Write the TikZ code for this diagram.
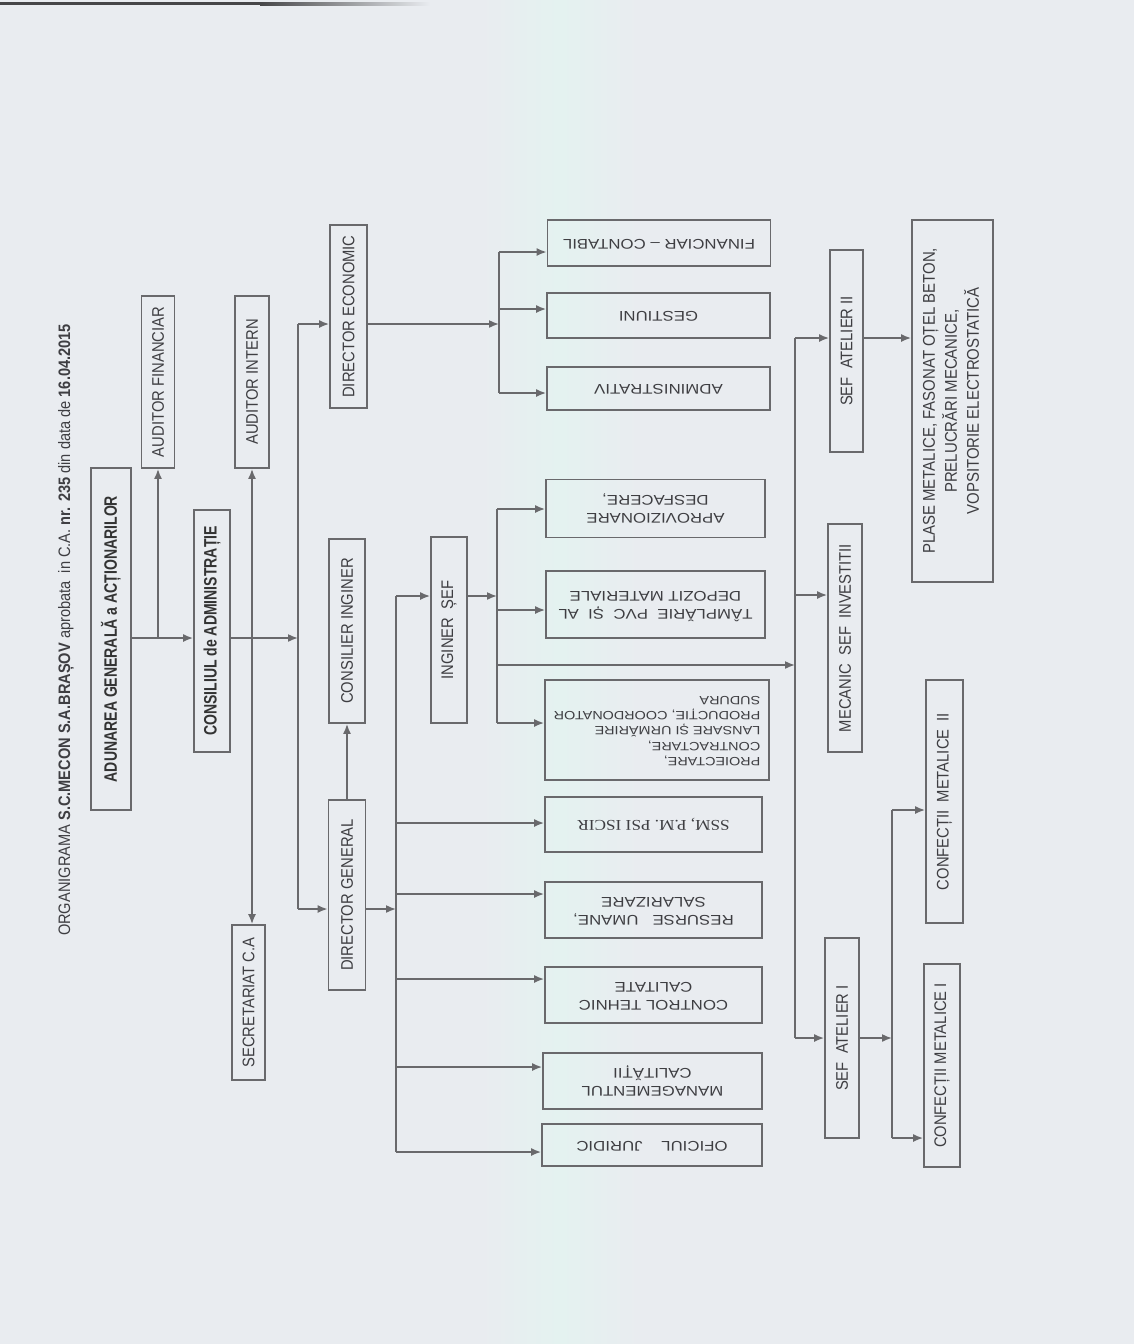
\documentclass[tikz,border=0pt]{standalone}
\usepackage{fontspec}
\usepackage{graphicx}
\setmainfont{Liberation Sans}
\newfontfamily\cond{Liberation Sans}[FakeStretch=0.88]
\newfontfamily\condb{Liberation Sans}[FakeStretch=0.78]
\newfontfamily\wide{Liberation Sans}[FakeStretch=1.2]
\newfontfamily\serifw{Liberation Serif}[FakeStretch=1.15]
\usetikzlibrary{arrows.meta}

\definecolor{paper}{RGB}{233,236,240}
\definecolor{band}{RGB}{228,242,240}
\definecolor{linec}{RGB}{105,105,108}
\definecolor{txtc}{RGB}{62,62,66}
\definecolor{scanbar}{RGB}{70,70,72}

\newcommand{\vt}[1]{\rotatebox{90}{#1}}
\newcommand{\vtt}[1]{\rotatebox{90}{\begin{tabular}{@{}c@{}}#1\end{tabular}}}
\newcommand{\ut}[1]{\rotatebox{180}{\begin{tabular}{@{}c@{}}#1\end{tabular}}}
\newcommand{\utl}[1]{\rotatebox{180}{\begin{tabular}{@{}l@{}}#1\end{tabular}}}

\tikzset{
  box/.style={draw=linec, line width=0.9pt, inner sep=0pt, text=txtc, align=center},
  wh/.style 2 args={minimum width=#1*0.5pt, minimum height=#2*0.5pt},
  vlab/.style={font=\cond\fontsize{8.4}{10}\selectfont},
  blab/.style={font=\condb\bfseries\fontsize{9}{11}\selectfont, text=black!80},
  ulab/.style={font=\wide\fontsize{7}{9}\selectfont},
  link/.style={draw=linec, line width=0.8pt, -{Latex[length=5pt,width=4pt]}},
  bus/.style={draw=linec, line width=0.8pt},
}

\begin{document}
\begin{tikzpicture}[x=0.5pt, y=-0.5pt]
    % page
    \fill[paper] (0,0) rectangle (1134,1344);
    \shade[left color=paper, right color=paper, middle color=band] (480,0) rectangle (640,1344);
    \fill[scanbar] (0,2) rectangle (260,5);
    \shade[left color=scanbar, right color=paper] (260,2) rectangle (430,5);
    \useasboundingbox (0,0) rectangle (1134,1344);

    % title
    \node[font=\cond\fontsize{8.3}{10}\selectfont, text=txtc, inner sep=0pt] (title) at (66,630)
        {\vt{ORGANIGRAMA \textbf{S.C.MECON S.A.BRAȘOV} aprobata\ \ in C.A. \textbf{nr. 235} din data de \textbf{16.04.2015}}};

    % conducere
    \node[box, blab, wh={40}{342}] (aga) at (111,639) {\vt{ADUNAREA GENERALĂ a ACȚIONARILOR}};
    \node[box, vlab, wh={33}{172}] (audfin) at (158,382) {\vt{AUDITOR FINANCIAR}};
    \node[box, blab, wh={36}{242}] (cons) at (212,631) {\vt{CONSILIUL de ADMINISTRAȚIE}};
    \node[box, vlab, wh={34}{172}] (audint) at (252,382) {\vt{AUDITOR INTERN}};
    \node[box, vlab, wh={33}{155}] (secret) at (248.5,1002.5) {\vt{SECRETARIAT C.A}};
    \node[box, vlab, wh={37}{183}] (direc) at (348.5,316.5) {\vt{DIRECTOR ECONOMIC}};
    \node[box, vlab, wh={36}{184}] (consing) at (347,631) {\vt{CONSILIER INGINER}};
    \node[box, vlab, wh={37}{190}] (dirgen) at (347,895) {\vt{DIRECTOR GENERAL}};
    \node[box, vlab, wh={36}{186}] (ingsef) at (449,630) {\vt{INGINER\ \ ȘEF}};

    % compartimente
    \node[box, ulab, wh={223}{46}] (fin) at (659,243) {\ut{FINANCIAR – CONTABIL}};
    \node[box, ulab, wh={223}{45}] (gest) at (658.5,315.5) {\ut{GESTIUNI}};
    \node[box, ulab, wh={223}{43}] (adm) at (658.5,388.5) {\ut{ADMINISTRATIV}};
    \node[box, ulab, wh={219}{58}] (aprov) at (655.5,508.5) {\ut{APROVIZIONARE\\DESFACERE,}};
    \node[box, ulab, wh={219}{67}] (tampl) at (655.5,604.5) {\ut{TÂMPLĂRIE\ \ PVC\ \ ȘI\ \ AL\\DEPOZIT MATERIALE}};
    \node[box, font=\wide\fontsize{6}{7.6}\selectfont, wh={224}{100}] (proiect) at (657,730)
        {\utl{PROIECTARE,\\CONTRACTARE,\\LANSARE ȘI URMĂRIRE\\PRODUCȚIE, COORDONATOR\\SUDURA}};
    \node[box, font=\serifw\fontsize{7.5}{9}\selectfont, wh={217}{55}] (ssm) at (653.5,824.5) {\ut{SSM, P.M. PSI ISCIR}};
    \node[box, ulab, wh={217}{56}] (resurse) at (653.5,910) {\ut{RESURSE\ \ \ UMANE,\\SALARIZARE}};
    \node[box, ulab, wh={217}{56}] (control) at (653.5,995) {\ut{CONTROL TEHNIC\\CALITATE}};
    \node[box, ulab, wh={219}{56}] (manag) at (652.5,1081) {\ut{MANAGEMENTUL\\CALITĂȚII}};
    \node[box, ulab, wh={220}{42}] (oficiul) at (652,1145) {\ut{OFICIUL\quad\ JURIDIC}};

    % ateliere
    \node[box, vlab, wh={33}{202}] (sefat2) at (846.5,351) {\vt{SEF\ \ ATELIER II}};
    \node[box, font=\cond\fontsize{8.5}{11}\selectfont, wh={81}{362}] (plase) at (952.5,401)
        {\vtt{PLASE METALICE, FASONAT OȚEL BETON,\\PRELUCRĂRI MECANICE,\\VOPSITORIE ELECTROSTATICĂ}};
    \node[box, vlab, wh={34}{228}] (mecanic) at (845,638) {\vt{MECANIC\ \ SEF\ \ INVESTITII}};
    \node[box, vlab, wh={34}{200}] (sefat1) at (842,1038) {\vt{SEF\ \ ATELIER I}};
    \node[box, vlab, wh={37}{243}] (conf2) at (944.5,801.5) {\vt{CONFECȚII\ \ METALICE\ \ II}};
    \node[box, vlab, wh={36}{203}] (conf1) at (942,1065.5) {\vt{CONFECȚII METALICE I}};

    % puncte de ramificare
    \coordinate (jA) at (158,638);
    \coordinate (jS) at (252,638);
    \coordinate (bL) at (298,638);
    \coordinate (tE) at (298,324);
    \coordinate (tG) at (298,909);
    \coordinate (e0) at (499,324);
    \coordinate (e1) at (499,252);
    \coordinate (e2) at (499,309);
    \coordinate (e3) at (499,393);
    \coordinate (g0) at (396,909);
    \coordinate (g1) at (396,596);
    \coordinate (g2) at (396,823);
    \coordinate (g3) at (396,894);
    \coordinate (g4) at (396,979);
    \coordinate (g5) at (396,1067);
    \coordinate (g6) at (396,1152);
    \coordinate (i0) at (497,596);
    \coordinate (i1) at (497,509);
    \coordinate (i2) at (497,610);
    \coordinate (i3) at (497,665);
    \coordinate (i4) at (497,723);
    \coordinate (m1) at (795,338);
    \coordinate (m2) at (795,665);
    \coordinate (m3) at (795,595);
    \coordinate (m4) at (795,1038);
    \coordinate (s0) at (892,1038);
    \coordinate (s1) at (892,810);
    \coordinate (s2) at (892,1138);

    % AGA si CA
    \draw[link] (aga.east |- jA) -- (cons.west |- jA);
    \draw[link] (jA) -- (audfin.south);
    \draw[link] (cons.east |- jA) -- (bL);
    \draw[link] (jS) -- (audint.south);
    \draw[link] (jS) -- (jS |- secret.north);
    \draw[bus] (tE) -- (tG);
    \draw[link] (tE) -- (direc.west |- tE);
    \draw[link] (tG) -- (dirgen.west |- tG);
    \draw[link] (dirgen.north) -- (consing.south);

    % director economic
    \draw[link] (direc.east |- e0) -- (e0);
    \draw[bus] (e1) -- (e3);
    \draw[link] (e1) -- (fin.west |- e1);
    \draw[link] (e2) -- (gest.west |- e2);
    \draw[link] (e3) -- (adm.west |- e3);

    % director general
    \draw[link] (dirgen.east |- g0) -- (g0);
    \draw[bus] (g1) -- (g6);
    \draw[link] (g1) -- (ingsef.west |- g1);
    \draw[link] (g2) -- (ssm.west |- g2);
    \draw[link] (g3) -- (resurse.west |- g3);
    \draw[link] (g4) -- (control.west |- g4);
    \draw[link] (g5) -- (manag.west |- g5);
    \draw[link] (g6) -- (oficiul.west |- g6);

    % inginer sef
    \draw[link] (ingsef.east |- i0) -- (i0);
    \draw[bus] (i1) -- (i4);
    \draw[link] (i1) -- (aprov.west |- i1);
    \draw[link] (i2) -- (tampl.west |- i2);
    \draw[link] (i4) -- (proiect.west |- i4);
    \draw[link] (i3) -- (m2);

    % ateliere
    \draw[bus] (m1) -- (m4);
    \draw[link] (m1) -- (sefat2.west |- m1);
    \draw[link] (m3) -- (mecanic.west |- m3);
    \draw[link] (m4) -- (sefat1.west |- m4);
    \draw[link] (sefat2.east |- m1) -- (plase.west |- m1);
    \draw[link] (sefat1.east |- m4) -- (s0);
    \draw[bus] (s1) -- (s2);
    \draw[link] (s1) -- (conf2.west |- s1);
    \draw[link] (s2) -- (conf1.west |- s2);
\end{tikzpicture}
\end{document}
